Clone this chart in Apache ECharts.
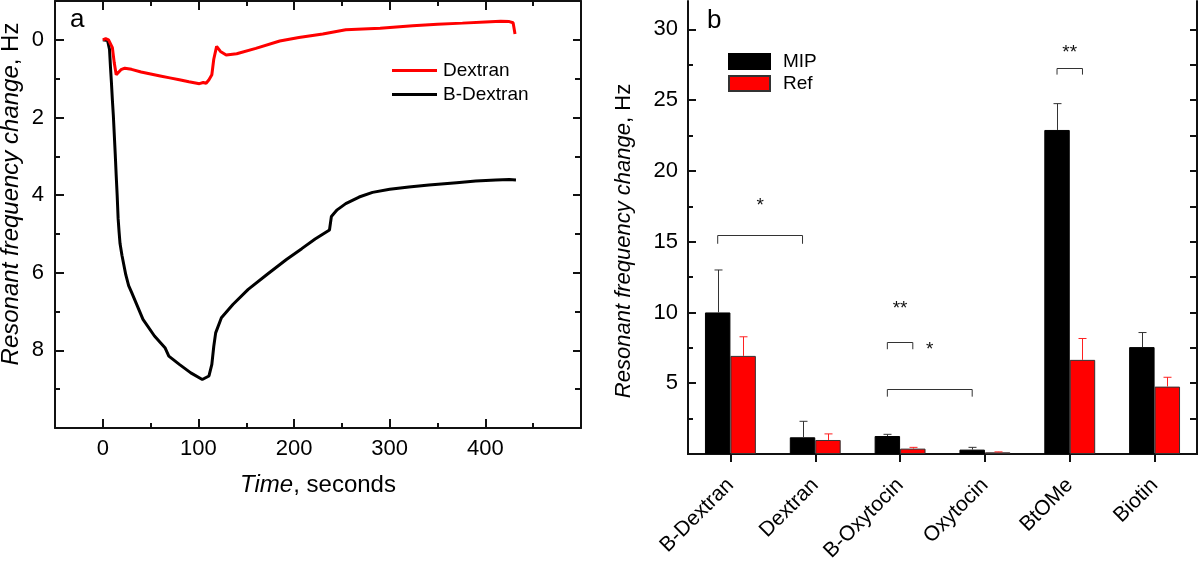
<!DOCTYPE html>
<html><head><meta charset="utf-8">
<script src="https://cdn.jsdelivr.net/npm/echarts@6/dist/echarts.min.js"></script>
<style>html,body{margin:0;padding:0;background:#fff}#c{width:1200px;height:565px}</style>
</head><body><div id="c"></div>
<script>
// ---- Panel a: time traces ----
const timeDextran = [0,3,6,8,10,12,14,16,19,23,30,40,50,60,70,80,90,101,105,108,111,114,116,119,123,129,140,160,185,205,230,254,290,324,350,376,400,416,425,429,430,431];
const dextranHz   = [0,-0.03,0,0.02,0.2,0.6,0.9,0.87,0.77,0.73,0.76,0.83,0.88,0.93,0.98,1.03,1.08,1.13,1.1,1.12,1.03,0.9,0.5,0.17,0.3,0.39,0.36,0.22,0.03,-0.06,-0.15,-0.26,-0.3,-0.36,-0.4,-0.43,-0.46,-0.48,-0.47,-0.44,-0.3,-0.15];
const timeBDextran = [0,5,7,8,9,10,11,12,13,14,15,16,17,18,20,24,27,30,42,54,65,69,80,92,104,106,111,114,116,118,124,136,152,172,192,208,222,237,239,245,254,268,282,300,320,341,370,390,411,425,432];
const bDextranHz   = [0,0.02,0.25,0.7,1.1,1.55,1.95,2.45,2.95,3.5,4.0,4.6,4.95,5.25,5.55,6.05,6.33,6.5,7.2,7.63,7.93,8.15,8.36,8.58,8.75,8.77,8.66,8.36,7.9,7.55,7.16,6.82,6.43,6.04,5.66,5.38,5.13,4.9,4.55,4.38,4.22,4.05,3.93,3.85,3.79,3.74,3.68,3.64,3.61,3.6,3.61];
const leftXTicks = [0,100,200,300,400];
const leftXMinor = [50,150,250,350,450];
const leftYTicks = [0,2,4,6,8];
const leftYMinor = [1,3,5,7,9];

// ---- Panel b: bars ----
const categories = ['B-Dextran','Dextran','B-Oxytocin','Oxytocin','BtOMe','Biotin'];
const mipValues = [10.0,1.18,1.27,0.31,22.89,7.55];
const mipErrTop = [13.0,2.31,1.39,0.47,24.75,8.58];
const refValues = [6.93,0.99,0.38,0.12,6.65,4.76];
const refErrTop = [8.28,1.42,0.47,0.15,8.16,5.42];
const rightYTicks = [5,10,15,20,25,30];
const rightYMinor = [2.5,7.5,12.5,17.5,22.5,27.5];
// significance brackets: [category, series(0=MIP,1=Ref)]
const bracketStart = [[0,0],[2,0],[2,0],[4,0]];
const bracketEnd   = [[1,0],[2,1],[3,0],[4,1]];
const bracketLineY = [15.5,7.9,4.6,27.3];
const bracketLegY  = [14.85,7.4,4.05,26.8];
const starY    = [17.86,10.6,7.7,28.7];
const starText = ['*','**','*','**'];

const FONT = '"Liberation Sans", Arial, Helvetica, sans-serif';
const AX = '#111';
const BAR_OFF = 0.15; // half-bar offset as fraction of band (barCategoryGap 40%, barGap 0)

function valAxis(gridIndex, pos, opt){
  return Object.assign({
    type:'value', gridIndex, position:pos,
    splitLine:{show:false},
    axisLine:{show:true, onZero:false, lineStyle:{color:AX, width:2}},
    axisTick:{show:true, inside:true, length:8, lineStyle:{color:AX, width:2}},
    axisLabel:{show:false}
  }, opt);
}
function minorAxis(gridIndex,pos,opt,values,len){
  return valAxis(gridIndex,pos,Object.assign({
    axisLine:{show:false, onZero:false},
    axisTick:{show:true, inside:true, length:len, customValues:values, lineStyle:{color:AX,width:2}},
    axisLabel:{show:false}
  },opt));
}
const lx = {min:-50, max:500};
const ly = {min:-1, max:10, inverse:true};
const ry = {min:0, max:32};

const xAxes = [
  valAxis(0,'bottom',Object.assign({
    axisTick:{show:true, inside:true, length:9, customValues:leftXTicks, lineStyle:{color:AX,width:2}},
    axisLabel:{show:true, customValues:leftXTicks, fontSize:22, margin:10, color:'#000', fontFamily:FONT},
    name:'{i|Time}, seconds', nameLocation:'middle', nameGap:45,
    nameTextStyle:{fontSize:24, color:'#000', fontFamily:FONT, rich:{i:{fontStyle:'italic', fontSize:24, fontFamily:FONT}}}
  },lx)),
  minorAxis(0,'bottom',lx,leftXMinor,5),
  valAxis(0,'top',Object.assign({axisTick:{show:true, inside:true, length:9, customValues:leftXTicks, lineStyle:{color:AX,width:2}}},lx)),
  minorAxis(0,'top',lx,leftXMinor,5),
  {type:'category', gridIndex:1, position:'bottom', data:categories,
   axisLine:{show:true, lineStyle:{color:AX,width:2}},
   axisTick:{show:true, alignWithLabel:true, inside:false, length:8, lineStyle:{color:AX,width:2}},
   axisLabel:{rotate:45, fontSize:21, margin:28, color:'#000', fontFamily:FONT, interval:0}},
  {type:'category', gridIndex:1, position:'top', data:categories,
   axisLine:{show:true, lineStyle:{color:AX,width:2}},
   axisTick:{show:true, alignWithLabel:true, inside:true, length:8, lineStyle:{color:AX,width:2}},
   axisLabel:{show:false}}
];
const yAxes = [
  valAxis(0,'left',Object.assign({
    axisTick:{show:true, inside:true, length:9, customValues:leftYTicks, lineStyle:{color:AX,width:2}},
    axisLabel:{show:true, customValues:leftYTicks, fontSize:22, margin:11, color:'#000', fontFamily:FONT}
  },ly)),
  minorAxis(0,'left',ly,leftYMinor,5),
  valAxis(0,'right',Object.assign({axisTick:{show:true, inside:true, length:8, customValues:leftYTicks, lineStyle:{color:AX,width:2}}},ly)),
  minorAxis(0,'right',ly,leftYMinor,6),
  valAxis(1,'left',Object.assign({
    axisTick:{show:true, inside:true, length:8, customValues:rightYTicks, lineStyle:{color:AX,width:2}},
    axisLabel:{show:true, customValues:rightYTicks, fontSize:22, margin:10, color:'#000', fontFamily:FONT}
  },ry)),
  minorAxis(1,'left',ry,rightYMinor,5),
  valAxis(1,'right',Object.assign({axisTick:{show:true, inside:true, length:7, customValues:rightYTicks, lineStyle:{color:AX,width:2}}},ry)),
  minorAxis(1,'right',ry,rightYMinor,7)
];

function errItem(sign,color){
  return function(params, api){
    const c = api.value(0), v = api.value(1), e = api.value(2);
    const band = api.size([1,0])[0];
    const p0 = api.coord([c,v]), p1 = api.coord([c,e]);
    const x = Math.round(p0[0] + sign*BAR_OFF*band) + 0.5;
    return {type:'group', children:[
      {type:'line', shape:{x1:x,y1:p0[1],x2:x,y2:p1[1]}, style:{stroke:color, lineWidth:1}},
      {type:'line', shape:{x1:x-4,y1:p1[1],x2:x+4,y2:p1[1]}, style:{stroke:color, lineWidth:1}}
    ]};
  };
}
function bracketItem(params, api){
  const i = api.value(2);
  const band = api.size([1,0])[0];
  const s = bracketStart[i], e = bracketEnd[i];
  const xa = api.coord([s[0], bracketLineY[i]])[0] + (s[1]===0?-1:1)*BAR_OFF*band;
  const xb = api.coord([e[0], bracketLineY[i]])[0] + (e[1]===0?-1:1)*BAR_OFF*band;
  const yl = Math.round(api.coord([s[0], bracketLineY[i]])[1]) + 0.5;
  const yg = api.coord([s[0], bracketLegY[i]])[1];
  const ys = api.coord([s[0], starY[i]])[1];
  return {type:'group', children:[
    {type:'polyline', shape:{points:[[xa,yg],[xa,yl],[xb,yl],[xb,yg]]}, style:{stroke:'#333', lineWidth:1, fill:null}},
    {type:'text', x:(xa+xb)/2, y:ys+5, style:{text:starText[i], fontSize:19, fontFamily:FONT, fill:'#111', align:'center', verticalAlign:'middle'}}
  ]};
}

const option = {
  animation:false,
  backgroundColor:'#fff',
  grid:[
    {left:55, right:619, top:1, bottom:137, containLabel:false},
    {left:688, right:3, top:1, bottom:111, containLabel:false}
  ],
  xAxis:xAxes,
  yAxis:yAxes,
  legend:[
    {data:['Dextran','B-Dextran'], orient:'vertical', left:392, top:61, padding:0, icon:'rect', itemWidth:45, itemHeight:3, itemGap:5,
     textStyle:{fontSize:19, color:'#000', fontFamily:FONT, padding:[0,0,0,1]}},
    {data:['MIP','Ref'], orient:'vertical', left:728, top:52, padding:0, itemWidth:41, itemHeight:15, itemGap:3, icon:'rect',
     textStyle:{fontSize:19, color:'#000', fontFamily:FONT, padding:[0,0,0,8]}}
  ],
  graphic:[
    {type:'text', x:11, y:194, rotation:Math.PI/2, style:{text:'{i|Resonant frequency change}{n|, Hz}', align:'center', verticalAlign:'middle',
      rich:{i:{fontStyle:'italic', fontSize:24, fontFamily:FONT, fill:'#000'}, n:{fontSize:24, fontFamily:FONT, fill:'#000'}}}},
    {type:'text', x:624, y:241, rotation:Math.PI/2, style:{text:'{i|Resonant frequency change}{n|, Hz}', align:'center', verticalAlign:'middle',
      rich:{i:{fontStyle:'italic', fontSize:22, fontFamily:FONT, fill:'#000'}, n:{fontSize:22, fontFamily:FONT, fill:'#000'}}}},
    {type:'text', x:70, y:20, style:{text:'a', fontSize:26, fontFamily:FONT, fill:'#000', align:'left', verticalAlign:'middle'}},
    {type:'text', x:707, y:21, style:{text:'b', fontSize:26, fontFamily:FONT, fill:'#000', align:'left', verticalAlign:'middle'}}
  ],
  series:[
    {name:'Dextran', type:'line', xAxisIndex:0, yAxisIndex:0, showSymbol:false, symbol:'none', z:4,
     data:timeDextran.map((t,i)=>[t,dextranHz[i]]), lineStyle:{color:'#ff0000', width:3}, itemStyle:{color:'#ff0000'}},
    {name:'B-Dextran', type:'line', xAxisIndex:0, yAxisIndex:0, showSymbol:false, symbol:'none', z:3,
     data:timeBDextran.map((t,i)=>[t,bDextranHz[i]]), lineStyle:{color:'#000', width:3}, itemStyle:{color:'#000'}},
    {name:'MIP', type:'bar', xAxisIndex:4, yAxisIndex:4, data:mipValues, barGap:'0%', barCategoryGap:'40%',
     itemStyle:{color:'#000', borderColor:'#000', borderWidth:1}},
    {name:'Ref', type:'bar', xAxisIndex:4, yAxisIndex:4, data:refValues, barGap:'0%', barCategoryGap:'40%',
     itemStyle:{color:'#ff0000', borderColor:'#333', borderWidth:1}},
    {name:'MIP err', type:'custom', xAxisIndex:4, yAxisIndex:4, z:5,
     data:categories.map((c,i)=>[i,mipValues[i],mipErrTop[i]]), renderItem:errItem(-1,'#333')},
    {name:'Ref err', type:'custom', xAxisIndex:4, yAxisIndex:4, z:5,
     data:categories.map((c,i)=>[i,refValues[i],refErrTop[i]]), renderItem:errItem(1,'#ff2020')},
    {name:'brackets', type:'custom', xAxisIndex:4, yAxisIndex:4, z:5, clip:false,
     data:bracketLineY.map((y,i)=>[bracketStart[i][0], y, i]), renderItem:bracketItem}
  ]
};
const chart = echarts.init(document.getElementById('c'), null, {renderer:'canvas'});
chart.setOption(option);
</script></body></html>
